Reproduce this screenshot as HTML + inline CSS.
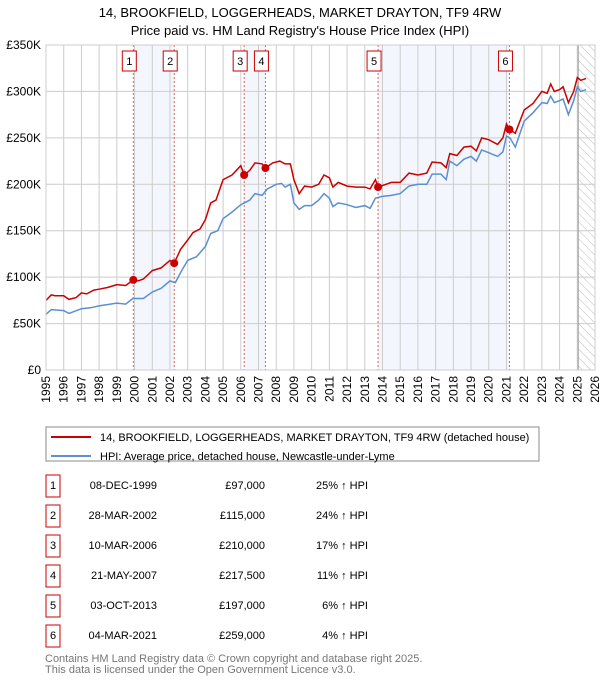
<!DOCTYPE html>
<html><head><meta charset="utf-8"><style>
body{margin:0;background:#fff;font-family:"Liberation Sans","DejaVu Sans",sans-serif;}
#wrap{position:relative;width:600px;height:680px;overflow:hidden;}
</style></head><body>
<div id="wrap">
<svg id="svg" width="600" height="680" style="position:absolute;left:0;top:0"></svg>
</div>
<script>
const salesT=[1999.93,2002.24,2006.19,2007.39,2013.75,2021.17];
const salesV=[97,115,210,217.5,197,259];
const salesDate=["08-DEC-1999","28-MAR-2002","10-MAR-2006","21-MAY-2007","03-OCT-2013","04-MAR-2021"];
const salesPrice=["£97,000","£115,000","£210,000","£217,500","£197,000","£259,000"];
const salesHpi=["25% ↑ HPI","24% ↑ HPI","17% ↑ HPI","11% ↑ HPI","6% ↑ HPI","4% ↑ HPI"];
const redT=[1995,1995.3,1995.5,1996,1996.3,1996.7,1997,1997.3,1997.7,1998,1998.5,1999,1999.5,1999.93,2000.2,2000.5,2001,2001.5,2002,2002.24,2002.6,2003,2003.3,2003.7,2004,2004.3,2004.6,2005,2005.5,2006,2006.19,2006.5,2006.8,2007.2,2007.39,2007.8,2008.2,2008.5,2008.8,2009,2009.3,2009.6,2010,2010.4,2010.7,2011,2011.2,2011.5,2012,2012.5,2013,2013.3,2013.6,2013.75,2014.2,2014.5,2015,2015.5,2016,2016.5,2016.8,2017.3,2017.6,2017.8,2018.2,2018.6,2019,2019.3,2019.6,2020,2020.5,2020.8,2021,2021.17,2021.5,2022,2022.5,2023,2023.3,2023.5,2023.7,2024,2024.2,2024.5,2024.8,2025,2025.2,2025.5];
const redV=[75,81,80,80,76,78,83,82,86,87,89,92,91,97,96,98,107,110,118,115,130,140,148,152,162,180,183,205,210,220,210,215,223,222,217.5,223,225,222,222,205,190,198,197,200,210,207,197,202,198,197,197,195,205,197,200,202,202,212,210,212,224,223,218,233,231,240,241,236,250,248,243,250,265,259,255,280,287,300,298,308,300,302,305,288,300,315,312,314];
const hpiT=[1995,1995.3,1996,1996.3,1997,1997.5,1998,1999,1999.5,1999.9,2000.5,2001,2001.5,2002,2002.3,2002.6,2003,2003.5,2004,2004.3,2004.7,2005,2005.5,2006,2006.2,2006.5,2006.8,2007.2,2007.5,2008,2008.3,2008.5,2008.8,2009,2009.3,2009.6,2010,2010.4,2010.7,2011,2011.2,2011.5,2012,2012.5,2013,2013.3,2013.6,2014,2014.5,2015,2015.5,2016,2016.5,2016.8,2017.3,2017.6,2017.8,2018.2,2018.6,2019,2019.3,2019.6,2020,2020.5,2020.8,2021,2021.2,2021.5,2022,2022.5,2023,2023.3,2023.5,2023.7,2024,2024.2,2024.5,2024.8,2025,2025.2,2025.5];
const hpiV=[60,65,64,61,66,67,69,72,71,77,77,84,88,96,94,105,118,122,133,147,150,163,170,178,180,183,190,188,195,200,201,197,200,180,173,177,177,183,190,185,176,180,178,175,177,174,185,187,188,190,198,200,200,211,211,205,225,220,227,230,225,237,234,230,235,252,250,240,268,277,288,287,295,288,290,292,275,290,305,300,302];
const yTicks=[0,50,100,150,200,250,300,350];
const yLabels=["£0","£50K","£100K","£150K","£200K","£250K","£300K","£350K"];
const xYears=[];for(let y=1995;y<=2026;y++)xYears.push(y);

const X0=46,X1=595,Y0=370,Y1=45;
const xs=t=>X0+(t-1995)*(X1-X0)/31;
const ys=v=>Y0-v*(Y0-Y1)/350;
const svg=document.getElementById('svg');
const NS='http://www.w3.org/2000/svg';
function mk(tag,attrs,parent){const e=document.createElementNS(NS,tag);for(const k in attrs)e.setAttribute(k,attrs[k]);(parent||svg).appendChild(e);return e;}

let tt=mk('text',{x:300,y:17,'text-anchor':'middle','font-size':13});tt.textContent='14, BROOKFIELD, LOGGERHEADS, MARKET DRAYTON, TF9 4RW';


let ts=mk('text',{x:300,y:35,'text-anchor':'middle','font-size':13});ts.textContent="Price paid vs. HM Land Registry's House Price Index (HPI)";



[[0,1],[2,3],[4,5]].forEach(p=>{
 const r=mk('rect',{x:xs(salesT[p[0]]),y:Y1,width:xs(salesT[p[1]])-xs(salesT[p[0]]),height:Y0-Y1,fill:'#f3f7fd'});
 
 
});
const defs=mk('defs',{});
const pat=mk('pattern',{id:'h',width:6,height:6,patternUnits:'userSpaceOnUse',patternTransform:'rotate(-45)'},defs);
mk('line',{x1:0,y1:0,x2:0,y2:6,stroke:'#bbb','stroke-width':1},pat);
const hx=xs(2025.05);
const hr=mk('rect',{x:hx,y:Y1,width:X1-hx,height:Y0-Y1,fill:'url(#h)'});


yTicks.forEach((v,i)=>{
 const l=mk('line',{x1:X0,x2:X1,y1:ys(v),y2:ys(v),stroke:'#ccc','stroke-width':1});
 
 
 const t=mk('text',{x:X0-5,y:ys(v)+4,'text-anchor':'end','font-size':12});t.textContent=yLabels[i];
 
 
});
xYears.forEach(y=>{
 const l=mk('line',{x1:xs(y),x2:xs(y),y1:Y1,y2:Y0,stroke:'#ccc','stroke-width':1});
 
 
 const t=mk('text',{x:0,y:0,'text-anchor':'end','font-size':12,transform:`translate(${xs(y)+4},${Y0+6}) rotate(-90)`});t.textContent=y;
 
 
});
mk('line',{x1:hx,x2:hx,y1:Y1,y2:Y0,stroke:'#999','stroke-width':1});
salesT.forEach((t,i)=>{
 const l=mk('line',{x1:xs(t),x2:xs(t),y1:Y1,y2:Y0,stroke:'#e06060','stroke-width':1,'stroke-dasharray':'2,2'});
 
 
 const g=mk('g',{});
 
 
 mk('rect',{x:xs(t)-11,y:51,width:14,height:20,fill:'#fff',stroke:'#c00','stroke-width':1},g);
 const tx=mk('text',{x:xs(t)-4,y:65,'text-anchor':'middle','font-size':11},g);tx.textContent=i+1;
});
function path(T,V){return T.map((t,i)=>(i?'L':'M')+xs(t).toFixed(1)+','+ys(V[i]).toFixed(1)).join('');}
const hp=mk('path',{d:path(hpiT,hpiV),fill:'none',stroke:'#5b8fd0','stroke-width':1.5});


const rp=mk('path',{d:path(redT,redV),fill:'none',stroke:'#cc0000','stroke-width':1.5});


salesT.forEach((t,i)=>{
 const c=mk('circle',{cx:xs(t),cy:ys(salesV[i]),r:4,fill:'#cc0000'});
 
 
});
mk('rect',{x:X0,y:Y1,width:X1-X0,height:Y0-Y1,fill:'none',stroke:'#ccc'});

const lg=mk('g',{});


mk('rect',{x:46,y:427,width:493,height:34,fill:'#fff',stroke:'#888'},lg);
mk('line',{x1:51,x2:91,y1:437,y2:437,stroke:'#cc0000','stroke-width':2},lg);
mk('line',{x1:51,x2:91,y1:456,y2:456,stroke:'#5b8fd0','stroke-width':2},lg);
let l1=mk('text',{x:100,y:441,'font-size':11},lg);l1.textContent='14, BROOKFIELD, LOGGERHEADS, MARKET DRAYTON, TF9 4RW (detached house)';


let l2=mk('text',{x:100,y:460,'font-size':11},lg);l2.textContent='HPI: Average price, detached house, Newcastle-under-Lyme';



salesDate.forEach((d,i)=>{
 const y=484+i*30;
 const g=mk('g',{});
 
 
 mk('rect',{x:46,y:y-9,width:14,height:22,fill:'#fff',stroke:'#c00'},g);
 let a=mk('text',{x:53,y:y+5,'text-anchor':'middle','font-size':11},g);a.textContent=i+1;
 let b=mk('text',{x:157,y:y+5,'text-anchor':'end','font-size':11},g);b.textContent=d;
 let c=mk('text',{x:265,y:y+5,'text-anchor':'end','font-size':11},g);c.textContent=salesPrice[i];
 let e=mk('text',{x:368,y:y+5,'text-anchor':'end','font-size':11},g);e.textContent=salesHpi[i];
});
let f1=mk('text',{x:45,y:662,'font-size':11,fill:'#777'});f1.textContent='Contains HM Land Registry data © Crown copyright and database right 2025.';


let f2=mk('text',{x:45,y:673,'font-size':11,fill:'#777'});f2.textContent='This data is licensed under the Open Government Licence v3.0.';


</script>
</body></html>
